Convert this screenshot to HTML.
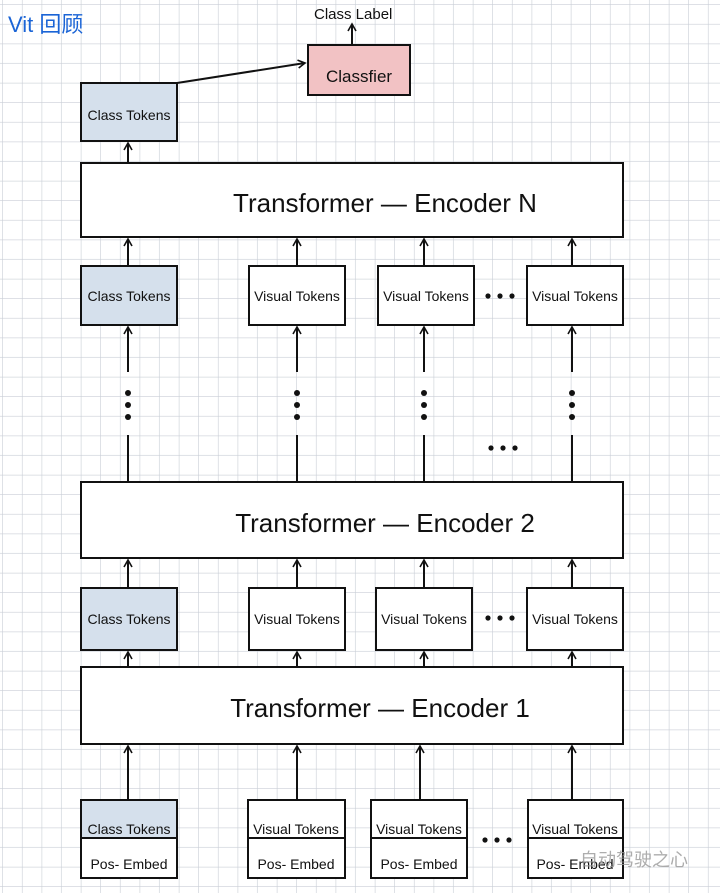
<!DOCTYPE html>
<html><head><meta charset="utf-8"><style>
body{margin:0;background:#fff}
svg{display:block}
text{font-family:"Liberation Sans","Noto Sans CJK SC",sans-serif;fill:#111}
</style></head><body>
<svg width="720" height="893" viewBox="0 0 720 893" xmlns="http://www.w3.org/2000/svg">
<defs>
<pattern id="g" width="19.6" height="19.6" patternUnits="userSpaceOnUse" x="3" y="5">
<path d="M19.6 0V19.6M0 19.6H19.6" stroke="#c9ced6" stroke-width="1.2" fill="none"/>
</pattern>
<marker id="a" markerWidth="10" markerHeight="10" refX="8" refY="5" orient="auto" markerUnits="userSpaceOnUse">
<path d="M1 1L8 5L1 9" fill="none" stroke="#111" stroke-width="1.6"/>
</marker>
</defs>
<rect width="720" height="893" fill="url(#g)"/>
<text x="8" y="32" font-size="22" style="fill:#1a64d6">Vit 回顾</text>
<text x="314" y="19" font-size="15">Class Label</text>
<line x1="352" y1="45" x2="352" y2="24" stroke="#111" stroke-width="2" marker-end="url(#a)"/>
<rect x="308" y="45" width="102" height="50" fill="#f2c2c4" stroke="#111" stroke-width="2"/>
<text x="359" y="82" font-size="17" text-anchor="middle">Classfier</text>
<rect x="81" y="83" width="96" height="58" fill="#d5e0ec" stroke="#111" stroke-width="2"/>
<text x="129" y="120" font-size="14" text-anchor="middle">Class Tokens</text>
<line x1="177" y1="83" x2="305" y2="63" stroke="#111" stroke-width="2" marker-end="url(#a)"/>
<line x1="128" y1="163" x2="128" y2="143" stroke="#111" stroke-width="2" marker-end="url(#a)"/>

<g stroke="#111" stroke-width="2" fill="none">
<rect x="81" y="163" width="542" height="74" fill="#fff"/>
<rect x="81" y="482" width="542" height="76" fill="#fff"/>
<rect x="81" y="667" width="542" height="77" fill="#fff"/>
</g>
<text x="385" y="212" font-size="26" text-anchor="middle">Transformer  —  Encoder N</text>
<text x="385" y="532" font-size="26" text-anchor="middle">Transformer  —  Encoder 2</text>
<text x="380" y="717" font-size="26" text-anchor="middle">Transformer  —  Encoder 1</text>

<g stroke="#111" stroke-width="2">
<rect x="81" y="266" width="96" height="59" fill="#d5e0ec"/>
<rect x="249" y="266" width="96" height="59" fill="#fff"/>
<rect x="378" y="266" width="96" height="59" fill="#fff"/>
<rect x="527" y="266" width="96" height="59" fill="#fff"/>
<rect x="81" y="588" width="96" height="62" fill="#d5e0ec"/>
<rect x="249" y="588" width="96" height="62" fill="#fff"/>
<rect x="376" y="588" width="96" height="62" fill="#fff"/>
<rect x="527" y="588" width="96" height="62" fill="#fff"/>
<rect x="81" y="800" width="96" height="78" fill="#fff"/>
<rect x="81" y="800" width="96" height="38" fill="#d5e0ec"/>
<rect x="248" y="800" width="97" height="78" fill="#fff"/>
<rect x="371" y="800" width="96" height="78" fill="#fff"/>
<rect x="528" y="800" width="95" height="78" fill="#fff"/>
<line x1="248" y1="838" x2="345" y2="838"/>
<line x1="371" y1="838" x2="467" y2="838"/>
<line x1="528" y1="838" x2="623" y2="838"/>
</g>
<g font-size="14" text-anchor="middle">
<text x="129" y="301">Class Tokens</text>
<text x="297" y="301">Visual Tokens</text>
<text x="426" y="301">Visual Tokens</text>
<text x="575" y="301">Visual Tokens</text>
<text x="129" y="624">Class Tokens</text>
<text x="297" y="624">Visual Tokens</text>
<text x="424" y="624">Visual Tokens</text>
<text x="575" y="624">Visual Tokens</text>
<text x="129" y="834">Class Tokens</text>
<text x="296" y="834">Visual Tokens</text>
<text x="419" y="834">Visual Tokens</text>
<text x="575" y="834">Visual Tokens</text>
<text x="129" y="869">Pos- Embed</text>
<text x="296" y="869">Pos- Embed</text>
<text x="419" y="869">Pos- Embed</text>
<text x="575" y="869">Pos- Embed</text>
</g>
<g fill="#111">
<circle cx="488" cy="296" r="2.6"/><circle cx="500" cy="296" r="2.6"/><circle cx="512" cy="296" r="2.6"/>
<circle cx="488" cy="618" r="2.6"/><circle cx="500" cy="618" r="2.6"/><circle cx="512" cy="618" r="2.6"/>
<circle cx="485" cy="840" r="2.6"/><circle cx="497" cy="840" r="2.6"/><circle cx="509" cy="840" r="2.6"/>
<circle cx="491" cy="448" r="2.6"/><circle cx="503" cy="448" r="2.6"/><circle cx="515" cy="448" r="2.6"/>
</g>
<g stroke="#111" stroke-width="2" marker-end="url(#a)">
<line x1="128" y1="266" x2="128" y2="239"/>
<line x1="297" y1="266" x2="297" y2="239"/>
<line x1="424" y1="266" x2="424" y2="239"/>
<line x1="572" y1="266" x2="572" y2="239"/>
<line x1="128" y1="372" x2="128" y2="327"/>
<line x1="297" y1="372" x2="297" y2="327"/>
<line x1="424" y1="372" x2="424" y2="327"/>
<line x1="572" y1="372" x2="572" y2="327"/>
<line x1="128" y1="588" x2="128" y2="560"/>
<line x1="297" y1="588" x2="297" y2="560"/>
<line x1="424" y1="588" x2="424" y2="560"/>
<line x1="572" y1="588" x2="572" y2="560"/>
<line x1="128" y1="667" x2="128" y2="652"/>
<line x1="297" y1="667" x2="297" y2="652"/>
<line x1="424" y1="667" x2="424" y2="652"/>
<line x1="572" y1="667" x2="572" y2="652"/>
<line x1="128" y1="800" x2="128" y2="746"/>
<line x1="297" y1="800" x2="297" y2="746"/>
<line x1="420" y1="800" x2="420" y2="746"/>
<line x1="572" y1="800" x2="572" y2="746"/>
</g>
<g stroke="#111" stroke-width="2">
<line x1="128" y1="482" x2="128" y2="435"/>
<line x1="297" y1="482" x2="297" y2="435"/>
<line x1="424" y1="482" x2="424" y2="435"/>
<line x1="572" y1="482" x2="572" y2="435"/>
</g>
<g fill="#111">
<circle cx="128" cy="393" r="3"/><circle cx="128" cy="405" r="3"/><circle cx="128" cy="417" r="3"/>
<circle cx="297" cy="393" r="3"/><circle cx="297" cy="405" r="3"/><circle cx="297" cy="417" r="3"/>
<circle cx="424" cy="393" r="3"/><circle cx="424" cy="405" r="3"/><circle cx="424" cy="417" r="3"/>
<circle cx="572" cy="393" r="3"/><circle cx="572" cy="405" r="3"/><circle cx="572" cy="417" r="3"/>
</g>
<text x="580" y="866" font-size="18" style="fill:#999;opacity:0.8">自动驾驶之心</text>
</svg>
</body></html>
